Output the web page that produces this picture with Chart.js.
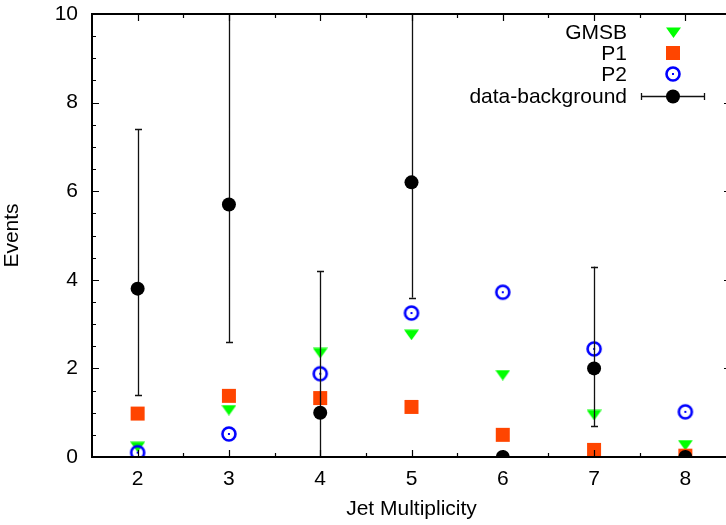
<!DOCTYPE html>
<html>
<head>
<meta charset="utf-8">
<script src="https://cdn.jsdelivr.net/npm/chart.js@4/dist/chart.umd.min.js"></script>
<style>
html,body{margin:0;padding:0;overflow:hidden;background:#fff;}
#wrap{width:760px;height:525px;}
</style>
</head>
<body>
<div id="wrap"><canvas id="c" width="760" height="525"></canvas></div>
<script>
// ---- data ----
const jetMult = [2, 3, 4, 5, 6, 7, 8];
const gmsb = [0.23, 1.06, 2.35, 2.76, 1.85, 0.95, 0.27];
const p1 = [0.98, 1.38, 1.33, 1.13, 0.50, 0.16, 0.03];
const p2 = [0.10, 0.52, 1.88, 3.25, 3.72, 2.44, 1.02];
const dataBkg = [3.8, 5.7, 1.0, 6.2, 0, 2.0, 0];
const errLow = [1.4, 2.6, -0.3, 3.6, null, 0.7, null];
const errHigh = [7.4, 11.5, 4.2, 11.5, null, 4.3, null];
const xTicks = [2, 3, 4, 5, 6, 7, 8];
const yTicks = [0, 2, 4, 6, 8, 10];
const seriesLabels = ['GMSB', 'P1', 'P2', 'data-background'];

const FONT = '"Liberation Sans", Arial, Helvetica, sans-serif';
const FS = 21;

// ---- marker images ----
function triImg() {
  const c = document.createElement('canvas'); c.width = 15; c.height = 11;
  const g = c.getContext('2d');
  g.fillStyle = '#00ff00';
  g.beginPath(); g.moveTo(0, 0.5); g.lineTo(15, 0.5); g.lineTo(7.5, 11); g.closePath(); g.fill();
  return c;
}
function ringImg() {
  const c = document.createElement('canvas'); c.width = 18; c.height = 18;
  const g = c.getContext('2d');
  g.strokeStyle = '#0000ff'; g.lineWidth = 2.6;
  g.beginPath(); g.arc(9, 9, 6.5, 0, Math.PI * 2); g.stroke();
  g.fillStyle = '#0000ff'; g.fillRect(8, 8, 2, 2);
  return c;
}
const TRI = triImg();
const RING = ringImg();

function pts(arr) { return jetMult.map((x, i) => ({x: x, y: arr[i]})); }

// ---- plugins ----
const frame = {
  id: 'frame',
  afterDraw(chart) {
    const {ctx, chartArea: a, scales: {x, y}} = chart;
    ctx.save();
    ctx.strokeStyle = '#000';
    ctx.lineWidth = 1.2;
    ctx.beginPath();
    for (let v = x.min; v <= x.max + 1e-9; v += 0.5) {
      if (v <= x.min + 1e-9 || v >= x.max - 1e-9) continue;
      const px = Math.round(x.getPixelForValue(v)) + 0.5;
      const L = Number.isInteger(v) ? 7 : 4;
      ctx.moveTo(px, a.bottom); ctx.lineTo(px, a.bottom - L);
      ctx.moveTo(px, a.top); ctx.lineTo(px, a.top + L);
    }
    for (let v = y.min; v <= y.max + 1e-9; v += 0.5) {
      if (v <= y.min + 1e-9 || v >= y.max - 1e-9) continue;
      const py = Math.round(y.getPixelForValue(v)) + 0.5;
      const L = (v % 2 === 0) ? 7 : 4;
      ctx.moveTo(a.left, py); ctx.lineTo(a.left + L, py);
      ctx.moveTo(a.right, py); ctx.lineTo(a.right - L, py);
    }
    ctx.stroke();
    ctx.lineWidth = 2;
    ctx.strokeRect(a.left, a.top, a.right - a.left, a.bottom - a.top);
    ctx.restore();

    // legend
    const ds = chart.data.datasets;
    const order = [3, 2, 1, 0];
    const rowsY = [32, 53, 74, 96];
    const tx = 627, sx = 673;
    ctx.save();
    ctx.font = FS + 'px ' + FONT;
    ctx.fillStyle = '#000';
    ctx.textAlign = 'right';
    ctx.textBaseline = 'middle';
    order.forEach((di, r) => {
      const d = ds[di];
      const yy = rowsY[r];
      ctx.fillText(d.label, tx, yy + 1);
      const st = d.pointStyle;
      if (typeof st === 'object') {
        ctx.drawImage(st, Math.round(sx - st.width / 2), Math.round(yy - st.height / 2));
      } else if (st === 'rect') {
        ctx.fillStyle = d.backgroundColor;
        ctx.fillRect(sx - 7, yy - 7, 14, 14);
        ctx.fillStyle = '#000';
      } else {
        ctx.strokeStyle = '#111'; ctx.lineWidth = 1.3;
        ctx.beginPath();
        ctx.moveTo(641, yy + 0.5); ctx.lineTo(705, yy + 0.5);
        ctx.moveTo(641.5, yy - 3); ctx.lineTo(641.5, yy + 4);
        ctx.moveTo(704.5, yy - 3); ctx.lineTo(704.5, yy + 4);
        ctx.stroke();
        ctx.fillStyle = d.backgroundColor;
        ctx.beginPath(); ctx.arc(sx, yy + 0.5, 7, 0, Math.PI * 2); ctx.fill();
        ctx.fillStyle = '#000';
      }
    });
    ctx.restore();
  },
  beforeDatasetDraw(chart, args) {
    if (args.index !== 0) return;
    const {ctx, chartArea: a, scales: {x, y}} = chart;
    ctx.save();
    ctx.beginPath();
    ctx.rect(a.left, a.top, a.right - a.left, a.bottom - a.top);
    ctx.clip();
    ctx.strokeStyle = '#111';
    ctx.lineWidth = 1.3;
    ctx.beginPath();
    jetMult.forEach((xv, i) => {
      if (errLow[i] === null) return;
      const px = Math.round(x.getPixelForValue(xv)) + 0.5;
      const y1 = y.getPixelForValue(errLow[i]);
      const y2 = y.getPixelForValue(errHigh[i]);
      ctx.moveTo(px, y1); ctx.lineTo(px, y2);
      ctx.moveTo(px - 3.5, Math.round(y1) + 0.5); ctx.lineTo(px + 3.5, Math.round(y1) + 0.5);
      ctx.moveTo(px - 3.5, Math.round(y2) + 0.5); ctx.lineTo(px + 3.5, Math.round(y2) + 0.5);
    });
    ctx.stroke();
    ctx.restore();
  }
};

new Chart(document.getElementById('c'), {
  type: 'scatter',
  data: {
    datasets: [
      {label: seriesLabels[3], data: pts(dataBkg), pointStyle: 'circle', pointRadius: 7, pointHoverRadius: 7,
       backgroundColor: '#000', borderWidth: 0, order: 0},
      {label: seriesLabels[2], data: pts(p2), pointStyle: RING, pointRadius: 9, backgroundColor: '#0000ff', borderWidth: 0, order: 1},
      {label: seriesLabels[1], data: pts(p1), pointStyle: 'rect', pointRadius: 9.9, pointHoverRadius: 9.9,
       backgroundColor: '#ff4500', borderWidth: 0, order: 2},
      {label: seriesLabels[0], data: pts(gmsb), pointStyle: TRI, pointRadius: 8, backgroundColor: '#00ff00', borderWidth: 0, order: 3}
    ]
  },
  options: {
    responsive: false,
    animation: false,
    events: [],
    layout: {padding: {left: 0, right: 29, top: 14, bottom: 0}},
    plugins: {legend: {display: false}, tooltip: {enabled: false}},
    scales: {
      x: {
        type: 'linear', min: 1.5, max: 8.5,
        afterBuildTicks: s => { s.ticks = xTicks.map(v => ({value: v})); },
        afterFit: s => { s.height = 68; s.paddingLeft = 0; s.paddingRight = 0; },
        grid: {display: false, drawTicks: false},
        border: {display: false},
        ticks: {color: '#000', font: {family: FONT, size: FS}, padding: 10, maxRotation: 0},
        title: {display: true, text: 'Jet Multiplicity', color: '#000', font: {family: FONT, size: FS}, padding: {top: 0, bottom: 3}}
      },
      y: {
        type: 'linear', min: 0, max: 10,
        afterBuildTicks: s => { s.ticks = yTicks.map(v => ({value: v})); },
        afterFit: s => { s.width = 92; s.paddingTop = 0; s.paddingBottom = 0; },
        grid: {display: false, drawTicks: false},
        border: {display: false},
        ticks: {color: '#000', font: {family: FONT, size: FS}, padding: 14},
        title: {display: true, text: 'Events', color: '#000', font: {family: FONT, size: FS}, padding: {top: 0, bottom: 0}}
      }
    }
  },
  plugins: [frame]
});
</script>
</body>
</html>
